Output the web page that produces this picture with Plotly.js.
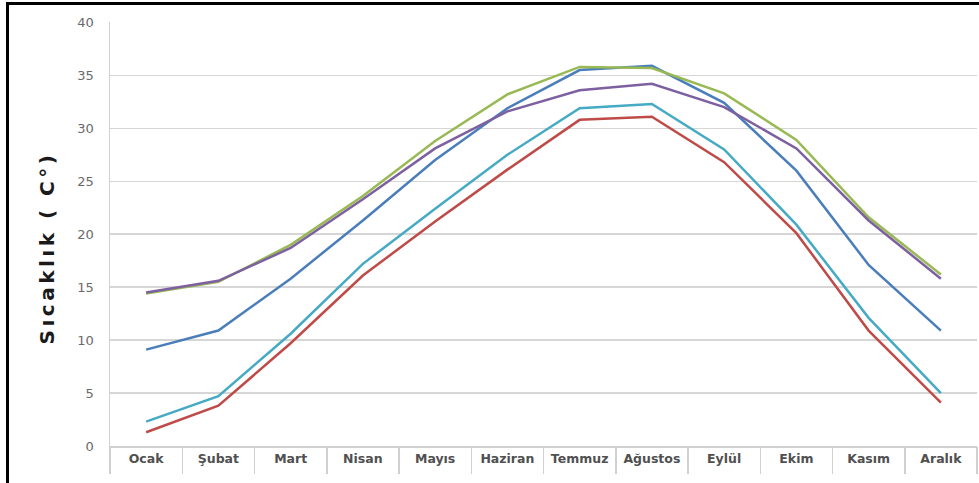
<!DOCTYPE html>
<html>
<head>
<meta charset="utf-8">
<script src="https://cdn.plot.ly/plotly-3.0.1.min.js"></script>
<style>
  html, body { margin: 0; padding: 0; background: #fff; }
  #wrap { position: relative; width: 979px; height: 483px; overflow: hidden; }
  #chart { position: absolute; left: 0; top: 0; width: 979px; height: 483px; }
  #frame { position: absolute; left: 6px; top: 2px; width: 990px; height: 500px;
           border-top: 3px solid #000; border-left: 3px solid #000; pointer-events: none; }
  .ytitle { letter-spacing: 3.5px; translate: 0px 14px; }
</style>
</head>
<body>
<div id="wrap">
  <div id="chart"></div>
  <div id="frame"></div>
</div>
<script>
// Monthly temperatures (°C) for five stations
const months = ["Ocak", "Şubat", "Mart", "Nisan", "Mayıs", "Haziran",
                "Temmuz", "Ağustos", "Eylül", "Ekim", "Kasım", "Aralık"];

const seriesBlue   = [9.1, 10.9, 15.8, 21.3, 27.0, 31.9, 35.5, 35.9, 32.4, 26.0, 17.1, 10.9];
const seriesRed    = [1.3, 3.8, 9.7, 16.1, 21.2, 26.1, 30.8, 31.1, 26.8, 20.1, 10.9, 4.1];
const seriesGreen  = [14.4, 15.5, 19.0, 23.6, 28.8, 33.2, 35.8, 35.7, 33.3, 28.9, 21.6, 16.2];
const seriesPurple = [14.5, 15.6, 18.7, 23.3, 28.1, 31.6, 33.6, 34.2, 32.0, 28.1, 21.3, 15.8];
const seriesCyan   = [2.3, 4.7, 10.6, 17.2, 22.4, 27.5, 31.9, 32.3, 28.0, 20.9, 12.1, 5.0];

const yTicks = [0, 5, 10, 15, 20, 25, 30, 35, 40];

const idx = months.map((_, i) => i);
const boundaries = months.map((_, i) => i - 0.5).concat([months.length - 0.5]);

function line(y, color) {
  return { type: "scatter", mode: "lines", x: idx, y: y,
           line: { color: color, width: 2.5 }, hoverinfo: "skip", showlegend: false };
}

const data = [
  line(seriesBlue,   "#4A7EBB"),
  line(seriesRed,    "#BE4B48"),
  line(seriesGreen,  "#98B954"),
  line(seriesPurple, "#7D60A0"),
  line(seriesCyan,   "#46AAC5"),
  // invisible carrier for the category-divider axis
  { type: "scatter", mode: "none", x: [-0.5, months.length - 0.5], y: [0, 0],
    xaxis: "x2", hoverinfo: "skip", showlegend: false }
];

const layout = {
  width: 979, height: 483,
  margin: { l: 110, r: 2, t: 22, b: 37 },
  paper_bgcolor: "#fff", plot_bgcolor: "#fff",
  font: { family: "DejaVu Sans, Arial, sans-serif", color: "#595959" },
  xaxis: {
    range: [-0.5, months.length - 0.5],
    tickmode: "array", tickvals: idx, ticktext: months,
    ticks: "", showgrid: false, zeroline: false,
    showline: true, linecolor: "#d0d0d0", linewidth: 1.5,
    tickfont: { family: "DejaVu Sans, Arial, sans-serif", size: 12.5, color: "#505050", weight: "bold" },
    fixedrange: true
  },
  xaxis2: {
    overlaying: "x", anchor: "y", side: "bottom",
    range: [-0.5, months.length - 0.5],
    tickmode: "array", tickvals: boundaries, showticklabels: false,
    ticks: "outside", ticklen: 27, tickwidth: 1.5, tickcolor: "#d0d0d0",
    showgrid: false, zeroline: false, showline: false, fixedrange: true
  },
  yaxis: {
    range: [0, 40.04], tickmode: "array", tickvals: yTicks,
    showgrid: true, gridcolor: "#d6d6d6", gridwidth: 1.5,
    zeroline: false, showline: true, linecolor: "#d0d0d0", linewidth: 1.5,
    ticks: "", ticklabelstandoff: 12,
    tickfont: { family: "DejaVu Sans, Arial, sans-serif", size: 13, color: "#6a6a6a" },
    title: { text: "Sıcaklık ( C°)", standoff: 17,
             font: { family: "DejaVu Sans, Arial, sans-serif", size: 20, color: "#1a1a1a", weight: "bold" } },
    fixedrange: true
  }
};

Plotly.newPlot("chart", data, layout, { staticPlot: true, displayModeBar: false });
</script>
</body>
</html>
